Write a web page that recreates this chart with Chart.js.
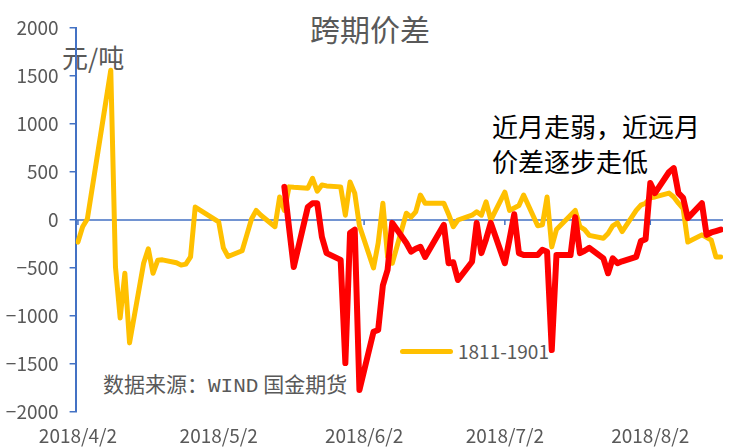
<!DOCTYPE html>
<html>
<head>
<meta charset="utf-8">
<script src="https://cdn.jsdelivr.net/npm/chart.js@4.4.1/dist/chart.umd.min.js"></script>
<style>
  body { margin: 0; background: #fff; }
  #wrap { position: relative; width: 750px; height: 447px; overflow: hidden; font-family: "Noto Sans CJK SC", sans-serif; }
  #c { position: absolute; left: 0; top: 0; z-index: 2; }
  .txt { position: absolute; white-space: nowrap; line-height: 1; z-index: 1; }
</style>
</head>
<body>
<div id="wrap">
  <div class="txt" style="left:0;width:740px;text-align:center;top:13px;font-size:30px;color:#595959;">跨期价差</div>
  <div class="txt" style="left:62px;top:44px;font-size:26px;color:#595959;">元/吨</div>
  <div class="txt" style="left:492px;top:113px;font-size:26px;color:#000;">近月走弱，近远月</div>
  <div class="txt" style="left:492px;top:148px;font-size:26px;color:#000;">价差逐步走低</div>
  <div class="txt" style="left:103px;top:373px;font-size:21px;color:#595959;">数据来源：<span style="font-family:'Liberation Mono',monospace;">WIND</span> 国金期货</div>
  <div class="txt" style="left:400px;top:349px;width:53px;height:5px;border-radius:3px;background:#FFC000;"></div>
  <div class="txt" style="left:458px;top:341px;font-size:19px;color:#595959;">1811-1901</div>
  <canvas id="c" width="750" height="447"></canvas>
</div>
<script>
// 1811-1901 spread, yuan/ton
const yellowDates = [
  "2018-04-02","2018-04-03","2018-04-04","2018-04-09","2018-04-10","2018-04-11","2018-04-12","2018-04-13",
  "2018-04-16","2018-04-17","2018-04-18","2018-04-19","2018-04-20","2018-04-23","2018-04-24","2018-04-25",
  "2018-04-26","2018-04-27","2018-05-02","2018-05-03","2018-05-04","2018-05-07","2018-05-08","2018-05-09",
  "2018-05-10","2018-05-11","2018-05-14","2018-05-15","2018-05-16","2018-05-17","2018-05-18","2018-05-21",
  "2018-05-22","2018-05-23","2018-05-24","2018-05-25","2018-05-28","2018-05-29","2018-05-30","2018-05-31",
  "2018-06-01","2018-06-04","2018-06-05","2018-06-06","2018-06-07","2018-06-08","2018-06-11","2018-06-12",
  "2018-06-13","2018-06-14","2018-06-15","2018-06-19","2018-06-20","2018-06-21","2018-06-22","2018-06-25",
  "2018-06-26","2018-06-27","2018-06-28","2018-06-29","2018-07-02","2018-07-03","2018-07-04","2018-07-05",
  "2018-07-06","2018-07-09","2018-07-10","2018-07-11","2018-07-12","2018-07-13","2018-07-16","2018-07-17",
  "2018-07-18","2018-07-19","2018-07-20","2018-07-23","2018-07-24","2018-07-25","2018-07-26","2018-07-27",
  "2018-07-30","2018-07-31","2018-08-01","2018-08-02","2018-08-03","2018-08-06","2018-08-07","2018-08-08",
  "2018-08-09","2018-08-10","2018-08-13","2018-08-14","2018-08-15","2018-08-16","2018-08-17"
];
const yellowValues = [
  -230, -70, 10, 1560, -490, -1020, -555, -1280,
  -450, -300, -555, -420, -415, -445, -470, -460,
  -385, 135, -20, -290, -380, -320, -155, 10,
  100, 50, -70, 240, 100, 345, 340, 330,
  435, 300, 365, 355, 345, 50, 395, 280,
  -60, -500, -240, 175, -380, -450, 70, 30,
  85, 260, 175, 175, 60, -70, 0, 50,
  85, 50, 190, 0, 290, 100, 125, 150,
  260, -60, -50, 240, -280, -100, 50, 100,
  -70, -100, -160, -190, -140, -60, -30, -120,
  100, 155, 175, 230, 240, 280, 240, 175,
  120, -230, -155, -180, -210, -385, -385
];

// second spread (red, not in legend)
const redDates = [
  "2018-05-16","2018-05-17","2018-05-18","2018-05-21","2018-05-22","2018-05-23","2018-05-24","2018-05-25",
  "2018-05-28","2018-05-29","2018-05-30","2018-05-31","2018-06-01","2018-06-04","2018-06-05","2018-06-06",
  "2018-06-07","2018-06-08","2018-06-11","2018-06-12","2018-06-13","2018-06-14","2018-06-15","2018-06-19",
  "2018-06-20","2018-06-21","2018-06-22","2018-06-25","2018-06-26","2018-06-27","2018-06-28","2018-06-29",
  "2018-07-02","2018-07-03","2018-07-04","2018-07-05","2018-07-06","2018-07-09","2018-07-10","2018-07-11",
  "2018-07-12","2018-07-13","2018-07-16","2018-07-17","2018-07-18","2018-07-19","2018-07-20","2018-07-23",
  "2018-07-24","2018-07-25","2018-07-26","2018-07-27","2018-07-30","2018-07-31","2018-08-01","2018-08-02",
  "2018-08-03","2018-08-06","2018-08-07","2018-08-08","2018-08-09","2018-08-10","2018-08-13","2018-08-14",
  "2018-08-15","2018-08-16","2018-08-17"
];
const redValues = [
  345, -80, -490, 135, 175, 175, -175, -345,
  -415, -1490, -135, -100, -1770, -1165, -1145, -680,
  -520, -30, -240, -330, -300, -280, -385, -50,
  -450, -440, -625, -435, -30, -345, -200, -30,
  -450, -200, 60, -345, -365, -365, -310, -330,
  -1355, -365, -365, 30, -345, -320, -290, -400,
  -555, -400, -450, -430, -385, -220, -200, 385,
  280, 500, 540, 280, 230, 20, 175, -155,
  -130, -115, -100
];

const tickDates = ["2018-04-02", "2018-05-02", "2018-06-02", "2018-07-02", "2018-08-02"];
const tickLabels = ["2018/4/2", "2018/5/2", "2018/6/2", "2018/7/2", "2018/8/2"];

const t0 = Date.UTC(2018, 3, 2);
function dayOf(s) {
  const p = s.split("-").map(Number);
  return Math.round((Date.UTC(p[0], p[1] - 1, p[2]) - t0) / 86400000);
}
const tickDays = tickDates.map(dayOf);
const toPts = (dates, vals) => dates.map((d, i) => ({ x: dayOf(d), y: vals[i] }));

const axisBlue = "#4472C4";
const tickFont = { family: "Noto Sans CJK SC", size: 19 };

const zeroLine = {
  id: "zeroLine",
  beforeDatasetsDraw(chart) {
    const { ctx, chartArea, scales } = chart;
    const y0 = scales.y.getPixelForValue(0);
    ctx.save();
    ctx.strokeStyle = axisBlue;
    ctx.lineWidth = 1.5;
    ctx.beginPath();
    ctx.moveTo(chartArea.left, y0);
    ctx.lineTo(chartArea.right, y0);
    tickDays.forEach(d => {
      const x = scales.x.getPixelForValue(d);
      ctx.moveTo(x, y0);
      ctx.lineTo(x, y0 + 5);
    });
    ctx.stroke();
    ctx.restore();
  }
};

new Chart(document.getElementById("c").getContext("2d"), {
  type: "line",
  data: {
    datasets: [
      { label: "", data: toPts(redDates, redValues), borderColor: "#FF0000", borderWidth: 6, order: 0 },
      { label: "1811-1901", data: toPts(yellowDates, yellowValues), borderColor: "#FFC000", borderWidth: 5, order: 1 }
    ]
  },
  options: {
    responsive: false,
    animation: false,
    elements: {
      point: { radius: 0 },
      line: { tension: 0, borderJoinStyle: "round", borderCapStyle: "round", fill: false }
    },
    layout: { padding: { top: 28, right: 27, left: 0, bottom: 0 } },
    plugins: { legend: { display: false }, tooltip: { enabled: false } },
    scales: {
      x: {
        type: "linear",
        min: -0.5,
        max: 137.5,
        grid: { display: false },
        border: { display: false },
        afterBuildTicks: s => { s.ticks = tickDays.map(v => ({ value: v })); },
        afterFit: s => { s.height = 35; },
        ticks: {
          autoSkip: false, maxRotation: 0, padding: 4,
          color: "#595959", font: tickFont,
          callback: v => tickLabels[tickDays.indexOf(v)]
        }
      },
      y: {
        min: -2000,
        max: 2000,
        afterFit: s => { s.width = 75.6; },
        ticks: {
          stepSize: 500, padding: 11,
          color: "#595959", font: tickFont,
          callback: v => String(v).replace("-", "\u2212")
        },
        grid: { drawOnChartArea: false, color: axisBlue, tickLength: 6, lineWidth: 1.5 },
        border: { color: axisBlue, width: 2 }
      }
    }
  },
  plugins: [zeroLine]
});
</script>
</body>
</html>
